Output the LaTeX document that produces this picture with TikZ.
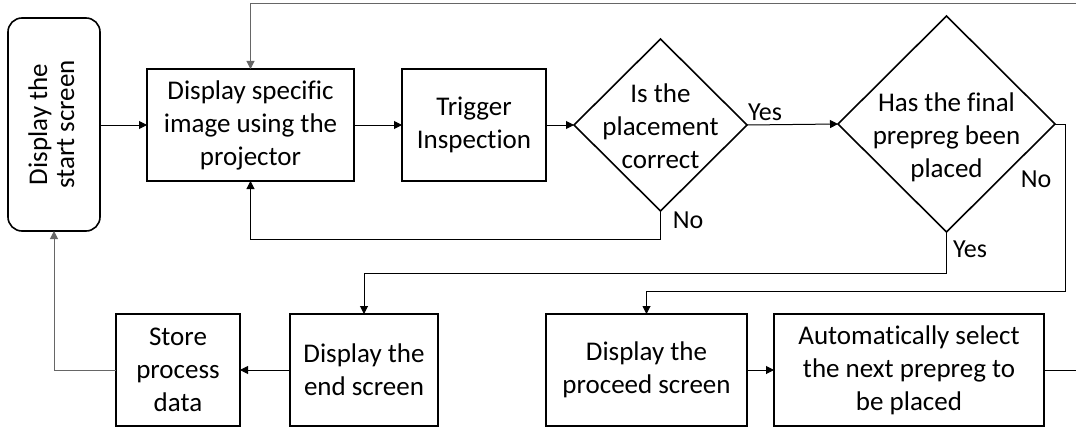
\documentclass[tikz,border=0pt]{standalone}
\usepackage{fontspec}
\setmainfont[Ligatures=NoCommon]{Carlito}
\usetikzlibrary{arrows.meta,shapes.geometric}
\begin{document}
\begin{tikzpicture}[x=1pt,y=-1pt,
  font=\fontsize{27}{33}\selectfont,
  every node/.style={inner sep=0pt,outer sep=0pt},
  box/.style={draw,line width=1.6pt,rectangle,align=center},
  dia/.style={draw,line width=1.6pt,diamond},
  conn/.style={line width=1pt,-{Triangle[length=8pt,width=8pt]}},
  line/.style={line width=1pt},
  lbl/.style={font=\fontsize{26}{30}\selectfont}]
\useasboundingbox (0,0) rectangle (1076,428);
% nodes
\node[box,rounded corners=14pt,minimum width=92pt,minimum height=213pt] (start) at (54,124.5)
  {\rotatebox{90}{\begin{tabular}{@{}c@{}}Display the\\[-6pt]start screen\end{tabular}}};
\node[box,minimum width=207pt,minimum height=112pt] (disp) at (250.5,125) {Display specific\\image using the\\projector};
\node[box,minimum width=144pt,minimum height=112pt] (trig) at (474,125) {Trigger\\Inspection};
\node[dia,minimum width=173pt,minimum height=172pt] (d1) at (660.5,125)
  {};
\node[align=center] (d1t) at (660.5,126) {Is the\\placement\\correct};
\node[dia,minimum width=217pt,minimum height=216pt] (d2) at (946.5,124)
  {};
\node[align=center] (d2t) at (946.5,137) {Has the final\\prepreg been\\placed};
\node[box,minimum width=124pt,minimum height=112pt] (store) at (178,370) {Store\\process\\data};
\node[box,minimum width=148pt,minimum height=112pt] (ends) at (364,370) {Display the\\end screen};
\node[box,minimum width=201pt,minimum height=112pt] (proc) at (646.5,370) {Display the\\proceed screen};
\node[box,minimum width=270pt,minimum height=112pt] (auto) at (909,370) {Automatically select\\the next prepreg to\\be placed};
% labels
\node[lbl] (yes1) at (765,112) {Yes};
\node[lbl] (no1) at (688,220) {No};
\node[lbl] (no2) at (1036,179) {No};
\node[lbl] (yes2) at (970,249) {Yes};
% helper coordinates
\coordinate (c1) at (1065,291);
\coordinate (c2) at (0,273);
\coordinate (c3) at (0,239);
\coordinate (r1) at (1078,370);
\coordinate (r2) at (1078,4);
% connectors
\draw[conn] (start.east |- disp.west) -- (disp.west);
\draw[conn] (disp.east) -- (trig.west);
\draw[conn] (trig.east) -- (d1.west);
\draw[conn] (d1.east) -- (d2.west);
\draw[conn] (d1.south) -- (d1.south |- c3) -| (disp.south);
\draw[conn] (d2.south) -- (d2.south |- c2) -| (ends.north);
\draw[conn] (d2.east) -| (c1) -| (proc.north);
\draw[conn] (ends.west) -- (store.east);
\draw[conn,draw=black!60] (store.west) -| (start.south);
\draw[conn] (proc.east) -- (auto.west);
\draw[line] (auto.east) -- (r1);
\draw[conn,draw=black!60] (r1) -- (r2) -| (disp.north);
\end{tikzpicture}
\end{document}
